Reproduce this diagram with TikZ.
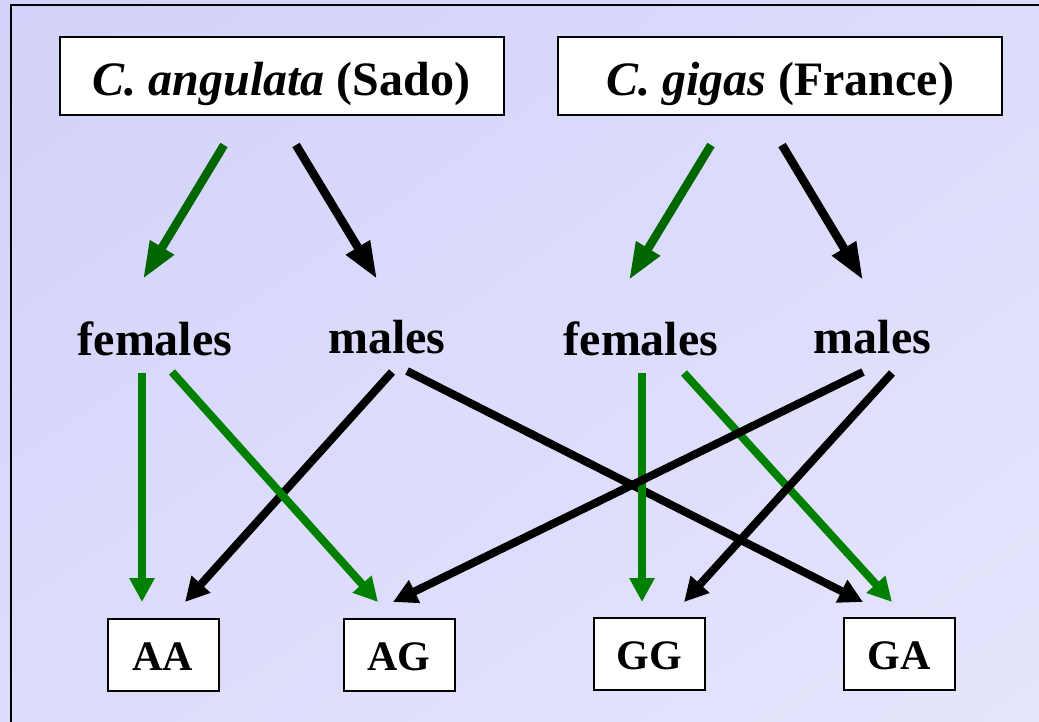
\documentclass[tikz,border=0pt]{standalone}
\usepackage{fontspec}
\setmainfont{Liberation Serif}
\usetikzlibrary{arrows.meta,shadings}
\definecolor{bgA}{RGB}{210,210,250}
\definecolor{bgB}{RGB}{220,220,251}
\definecolor{bgC}{RGB}{229,229,253}
\definecolor{darkgreen}{RGB}{0,102,0}
\definecolor{midgreen}{RGB}{0,128,0}
\begin{document}
\begin{tikzpicture}[x=1pt,y=-1pt,
  species/.style={draw=black,line width=2pt,fill=white,minimum width=444pt,minimum height=78pt,
    inner sep=0pt,text height=39pt,text depth=0pt,font=\fontsize{48}{54}\selectfont\bfseries},
  genotype/.style={draw=black,line width=2pt,fill=white,minimum width=111pt,minimum height=72pt,
    inner sep=0pt,text height=31pt,text depth=0pt,font=\fontsize{42}{48}\selectfont\bfseries},
  sexlabel/.style={anchor=base,inner sep=0pt,font=\fontsize{48}{54}\selectfont\bfseries},
  bigtip/.style={line width=8.5pt,-{Triangle[length=37pt,width=26pt]}},
  smalltip/.style={line width=8pt,-{Triangle[length=24pt,width=24pt]}},
]
% page and background
\useasboundingbox (0,0) rectangle (1039,722);
\shade[upper left=bgA,upper right=bgB,lower left=bgB,lower right=bgC] (0,0) rectangle (1039,722);
\draw[line width=2pt] (11,723) -- (11,5) -- (1040,5);

% parent stocks
\node[species] (sado) at (281.5,76.5) {\textit{C. angulata} (Sado)};
\node[species] (france) at (780,76.5) {\textit{C. gigas} (France)};

% sexes
\node[sexlabel] (femA) at (155,355) {females};
\node[sexlabel] (malA) at (387,353) {males};
\node[sexlabel] (femG) at (641,355) {females};
\node[sexlabel] (malG) at (872.5,353) {males};

% offspring
\node[genotype] (AA) at (163,654.5) {AA};
\node[genotype] (AG) at (399,654.5) {AG};
\node[genotype] (GG) at (649,653.5) {GG};
\node[genotype] (GA) at (899,653.5) {GA};

% arrow ends
\coordinate (sado-f) at (224,145);
\coordinate (sado-m) at (296,145);
\coordinate (france-f) at (711,145);
\coordinate (france-m) at (782,145);
\coordinate (femA-top) at (143,279);
\coordinate (malA-top) at (377,279);
\coordinate (femG-top) at (629,280);
\coordinate (malG-top) at (863,280);

\coordinate (femA-1) at (142,373);
\coordinate (femA-2) at (172,372);
\coordinate (malA-1) at (392,372);
\coordinate (malA-2) at (407,371);
\coordinate (femG-1) at (642,373);
\coordinate (femG-2) at (684,373);
\coordinate (malG-1) at (863,372);
\coordinate (malG-2) at (892,373);

\coordinate (AA-l) at (142,602);
\coordinate (AA-r) at (185,602);
\coordinate (AG-l) at (378,602);
\coordinate (AG-r) at (393,602);
\coordinate (GG-l) at (642,602);
\coordinate (GG-r) at (684,602);
\coordinate (GA-l) at (863,602);
\coordinate (GA-r) at (892,602);

% parents to sexes
\draw[bigtip,darkgreen] (sado-f) -- (femA-top);
\draw[bigtip,black] (sado-m) -- (malA-top);
\draw[bigtip,darkgreen] (france-f) -- (femG-top);
\draw[bigtip,black] (france-m) -- (malG-top);

% crosses
\draw[smalltip,black] (malA-1) -- (AA-r);
\draw[smalltip,black] (malA-2) -- (GA-l);
\draw[smalltip,midgreen] (femA-1) -- (AA-l);
\draw[smalltip,midgreen] (femA-2) -- (AG-l);
\draw[smalltip,midgreen] (femG-1) -- (GG-l);
\draw[smalltip,midgreen] (femG-2) -- (GA-r);
\draw[smalltip,black] (malG-1) -- (AG-r);
\draw[smalltip,black] (malG-2) -- (GG-r);
\end{tikzpicture}
\end{document}
